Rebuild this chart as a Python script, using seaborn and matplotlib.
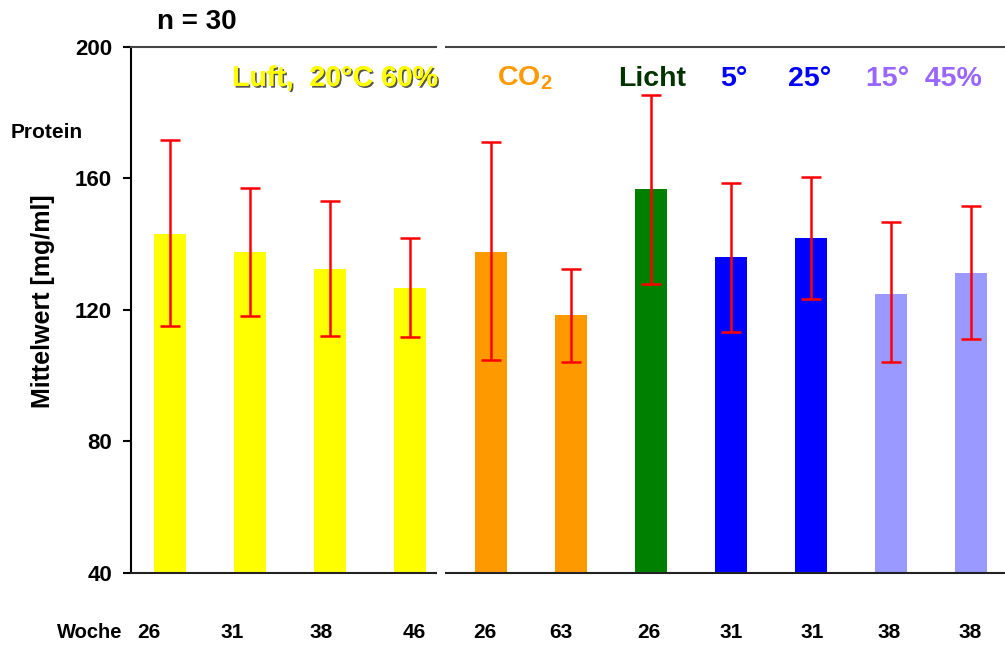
import matplotlib
matplotlib.use("Agg")
import matplotlib.pyplot as plt
import matplotlib.patheffects as pe
from matplotlib.patches import Rectangle
from matplotlib.transforms import ScaledTranslation
import seaborn as sns
import pandas as pd

# ---- data ----
bar_ids = ["L26", "L31", "L38", "L46", "C26", "C63", "Li26", "T5", "T25", "H15a", "H15b"]
weeks = ["26", "31", "38", "46", "26", "63", "26", "31", "31", "38", "38"]
groups = ["Luft", "Luft", "Luft", "Luft", "CO2", "CO2", "Licht", "5", "25", "15_45", "15_45"]
means = [143.1, 137.7, 132.5, 126.7, 137.7, 118.5, 156.8, 136.2, 141.9, 124.9, 131.3]
upper = [171.5, 157.0, 153.0, 141.9, 171.1, 132.5, 185.4, 158.7, 160.4, 146.6, 151.6]
lower = [115.2, 118.0, 112.2, 111.7, 104.7, 104.1, 128.0, 113.4, 123.2, 104.1, 111.2]
yticks = [40, 80, 120, 160, 200]

group_colors = {"Luft": "#FFFF00", "CO2": "#FF9900", "Licht": "#008000",
                "5": "#0000FF", "25": "#0000FF", "15_45": "#9999FF"}

# ---- style ----
sns.set_style("ticks")
plt.rcParams["font.family"] = ["Liberation Sans", "DejaVu Sans"]
plt.rcParams["font.weight"] = "bold"
plt.rcParams["text.color"] = "black"
plt.rcParams["axes.labelcolor"] = "black"
plt.rcParams["xtick.color"] = "black"
plt.rcParams["ytick.color"] = "black"
plt.rcParams["mathtext.fontset"] = "custom"
plt.rcParams["mathtext.rm"] = "Liberation Sans:bold"
plt.rcParams["mathtext.bf"] = "Liberation Sans:bold"
plt.rcParams["mathtext.it"] = "Liberation Sans:bold"

W, H = 1005, 648
fig = plt.figure(figsize=(W / 100, H / 100), dpi=100)
ax_left, ax_right, ax_top, ax_bot = 131, 1005, 46.7, 573
ax = fig.add_axes([ax_left / W, 1 - ax_bot / H, (ax_right - ax_left) / W, (ax_bot - ax_top) / H])

df = pd.DataFrame({"id": bar_ids, "mean": means, "group": groups})
palette = {b: group_colors[g] for b, g in zip(bar_ids, groups)}
sns.barplot(data=df, x="id", y="mean", hue="id", palette=palette, order=bar_ids,
            hue_order=bar_ids, legend=False, width=0.4, saturation=1,
            errorbar=None, ax=ax, linewidth=0)

err_lo = [m - l for m, l in zip(means, lower)]
err_hi = [u - m for m, u in zip(means, upper)]
ax.errorbar(x=list(range(len(means))), y=means, yerr=[err_lo, err_hi], fmt="none",
            ecolor="#FF0000", elinewidth=1.8, capsize=7.5, capthick=1.8, zorder=5)

ax.set_ylim(40, 200)
ax.set_xlim(-0.487, 10.42)
ax.set_yticks(yticks)
ax.set_yticklabels([str(t) for t in yticks], fontsize=16, fontweight="bold", color="black")
ax.tick_params(axis="y", length=6, width=1.5, pad=7.5, color="black")
ax.set_xticks(list(range(len(weeks))))
ax.set_xticklabels(weeks, fontsize=15, fontweight="bold", color="black")
ax.tick_params(axis="x", length=0, pad=36)
label_shift_px = [-21, -18, -9.5, 4, -5.6, -10, -2, 0, 1, -2, -1]
for lab, dx in zip(ax.get_xticklabels(), label_shift_px):
    lab.set_transform(lab.get_transform() + ScaledTranslation(dx / 100, 0, fig.dpi_scale_trans))
ax.set_xlabel("")
ax.set_ylabel("")

for s in ["left", "top", "bottom"]:
    ax.spines[s].set_visible(True)
    ax.spines[s].set_linewidth(1.5)
ax.spines["left"].set_color("black")
ax.spines["bottom"].set_color("#222222")
ax.spines["top"].set_color("#444444")
ax.spines["right"].set_visible(False)

# gaps in the top and bottom frame lines
gx0 = (437 - ax_left) / (ax_right - ax_left)
gx1 = (445 - ax_left) / (ax_right - ax_left)
for yy in (0, 1):
    ax.add_patch(Rectangle((gx0, yy - 0.008), gx1 - gx0, 0.016, transform=ax.transAxes,
                           facecolor="white", edgecolor="none", clip_on=False, zorder=10))

def fx(px):
    return px / W

def fy(py):
    return 1 - py / H

fig.text(fx(157), fy(29.3), "n = 30", fontsize=20, fontweight="bold", ha="left", va="baseline")
fig.text(fx(10.7), fy(137.7), "Protein", fontsize=15, fontweight="bold", ha="left", va="baseline")
fig.text(fx(43), fy(301), "Mittelwert [mg/ml]", fontsize=18, fontweight="bold",
         rotation=90, ha="center", va="center")
fig.text(fx(56.7), fy(638), "Woche", fontsize=14.5, fontweight="bold", ha="left", va="baseline")

shadow = [pe.withSimplePatchShadow(offset=(1.2, -1.2), shadow_rgbFace="#404040", alpha=0.9), pe.Normal()]
heads = [
    ("Luft,  20°C 60%", 232, "#FFFF00", shadow),
    (r"$\mathbf{CO_2}$", 497, "#FF9900", None),
    ("Licht", 618, "#003300", None),
    ("5°", 720, "#0000FF", None),
    ("25°", 788, "#0000FF", None),
    ("15°  45%", 866, "#9966FF", None),
]
for txt, x0, col, eff in heads:
    t = fig.text(fx(x0), fy(86), txt, fontsize=20.5, fontweight="bold", color=col,
                 ha="left", va="baseline")
    if eff:
        t.set_path_effects(eff)

fig.savefig("out.png", dpi=100, facecolor="white")
